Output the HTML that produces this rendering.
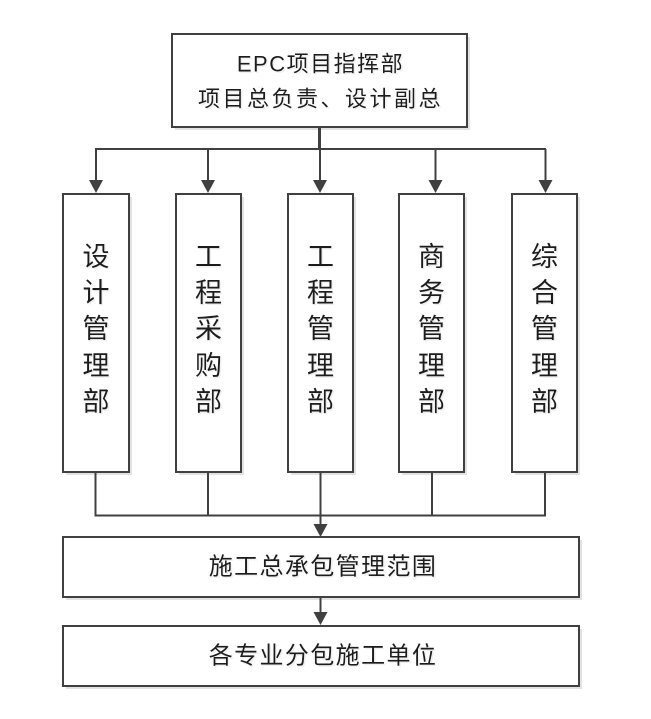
<!DOCTYPE html>
<html><head><meta charset="utf-8"><style>
html,body{margin:0;padding:0;background:#fff;}
svg{display:block;}
text{font-family:"Liberation Sans","Noto Sans CJK SC",sans-serif;fill:#1a1a1a;}
</style></head><body>
<svg width="651" height="719" viewBox="0 0 651 719" xmlns="http://www.w3.org/2000/svg">
<defs>
<filter id="ts" x="-10%" y="-10%" width="130%" height="130%">
<feOffset dx="1.5" dy="1.5" in="SourceAlpha" result="o"/>
<feColorMatrix in="o" type="matrix" values="0 0 0 0 0.8  0 0 0 0 0.8  0 0 0 0 0.8  0 0 0 0.6 0" result="c"/>
<feMerge><feMergeNode in="c"/><feMergeNode in="SourceGraphic"/></feMerge>
</filter>
</defs>
<g fill="#e2e2e2" stroke="none">
<rect x="175" y="37" width="295" height="93"/>
<rect x="66" y="197" width="66" height="278"/>
<rect x="179" y="197" width="65" height="278"/>
<rect x="291" y="197" width="65" height="278"/>
<rect x="402" y="197" width="65" height="278"/>
<rect x="515" y="197" width="65" height="278"/>
<rect x="66" y="540" width="516" height="60"/>
<rect x="66" y="629" width="516" height="60"/>
</g>
<g fill="#fff" stroke="#404040" stroke-width="2">
<rect x="172" y="34" width="295" height="93"/>
<rect x="63" y="194" width="66" height="278"/>
<rect x="176" y="194" width="65" height="278"/>
<rect x="288" y="194" width="65" height="278"/>
<rect x="399" y="194" width="65" height="278"/>
<rect x="512" y="194" width="65" height="278"/>
<rect x="63" y="537" width="516" height="60"/>
<rect x="63" y="626" width="516" height="60"/>
</g>
<g stroke="#404040" fill="none">
<line x1="319.5" y1="127" x2="319.5" y2="149" stroke-width="3"/>
<line x1="95" y1="149" x2="546" y2="149" stroke-width="2"/>
<line x1="96" y1="149" x2="96" y2="182" stroke-width="2"/>
<line x1="208" y1="149" x2="208" y2="182" stroke-width="2"/>
<line x1="320" y1="149" x2="320" y2="182" stroke-width="2"/>
<line x1="435.5" y1="149" x2="435.5" y2="182" stroke-width="2"/>
<line x1="545.5" y1="149" x2="545.5" y2="182" stroke-width="2"/>
<line x1="95.5" y1="472" x2="95.5" y2="516" stroke-width="2"/>
<line x1="208" y1="472" x2="208" y2="516" stroke-width="2"/>
<line x1="320.5" y1="472" x2="320.5" y2="526" stroke-width="2"/>
<line x1="432" y1="472" x2="432" y2="516" stroke-width="2"/>
<line x1="545" y1="472" x2="545" y2="516" stroke-width="2"/>
<line x1="94.5" y1="515.5" x2="546" y2="515.5" stroke-width="2"/>
<line x1="320.5" y1="597" x2="320.5" y2="614" stroke-width="2"/>
</g>
<g fill="#404040">
<polygon points="89,180 103,180 96,193"/>
<polygon points="201,180 215,180 208,193"/>
<polygon points="313,180 327,180 320,193"/>
<polygon points="428.5,180 442.5,180 435.5,193"/>
<polygon points="538.5,180 552.5,180 545.5,193"/>
<polygon points="313.5,524 327.5,524 320.5,537"/>
<polygon points="313.5,612 327.5,612 320.5,625"/>
</g>
<g filter="url(#ts)">
<text x="320.5" y="64" font-size="22" text-anchor="middle" dominant-baseline="central" letter-spacing="1.5">EPC项目指挥部</text>
<text x="320.5" y="99" font-size="22" text-anchor="middle" dominant-baseline="central" letter-spacing="2.5">项目总负责、设计副总</text>
<g font-size="27" text-anchor="middle" dominant-baseline="central">
<text x="96" y="257">设</text><text x="96" y="293">计</text><text x="96" y="329">管</text><text x="96" y="366">理</text><text x="96" y="402">部</text>
<text x="208.5" y="257">工</text><text x="208.5" y="293">程</text><text x="208.5" y="329">采</text><text x="208.5" y="366">购</text><text x="208.5" y="402">部</text>
<text x="320.5" y="257">工</text><text x="320.5" y="293">程</text><text x="320.5" y="329">管</text><text x="320.5" y="366">理</text><text x="320.5" y="402">部</text>
<text x="431.5" y="257">商</text><text x="431.5" y="293">务</text><text x="431.5" y="329">管</text><text x="431.5" y="366">理</text><text x="431.5" y="402">部</text>
<text x="544.5" y="257">综</text><text x="544.5" y="293">合</text><text x="544.5" y="329">管</text><text x="544.5" y="366">理</text><text x="544.5" y="402">部</text>
</g>
<text x="323" y="567" font-size="24" text-anchor="middle" dominant-baseline="central" letter-spacing="1.4">施工总承包管理范围</text>
<text x="323" y="656" font-size="24" text-anchor="middle" dominant-baseline="central" letter-spacing="1.4">各专业分包施工单位</text>
</g>
</svg>
</body></html>
